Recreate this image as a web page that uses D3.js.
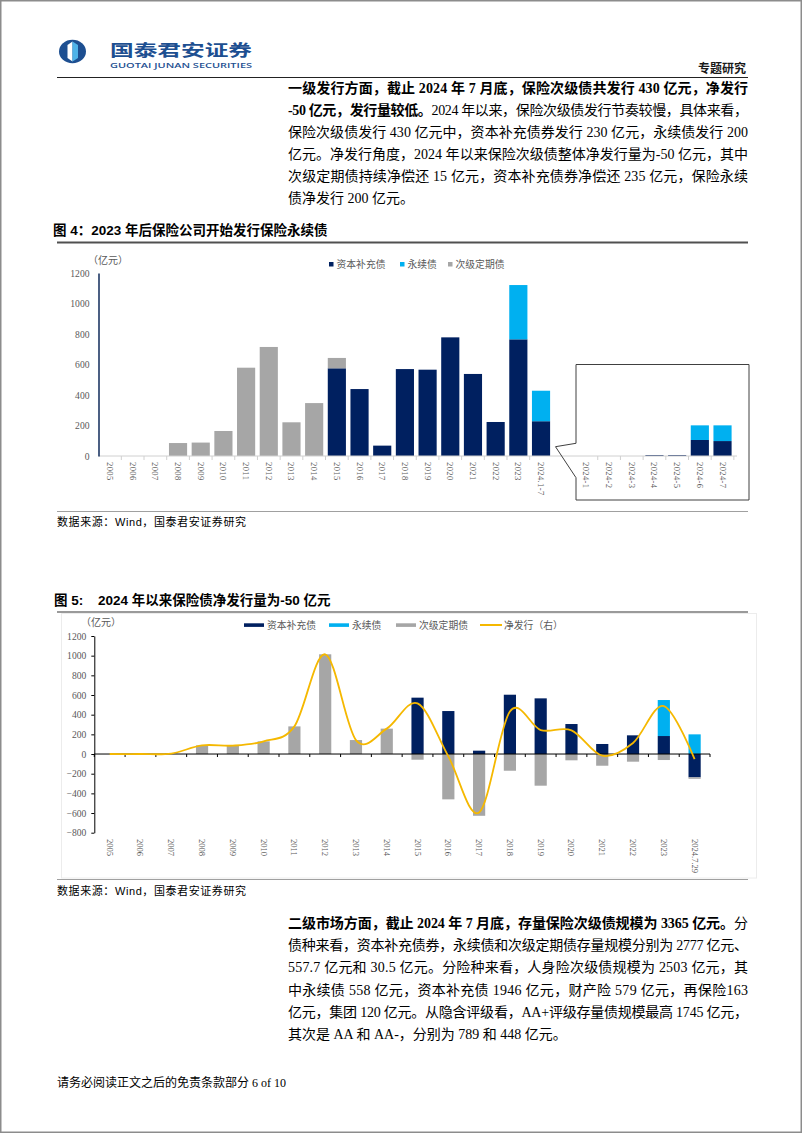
<!DOCTYPE html>
<html><head><meta charset="utf-8">
<script src="https://cdn.jsdelivr.net/npm/d3@7"></script>
<style>body{margin:0;background:#fff}svg{display:block}</style>
</head><body><svg id="page" width="802" height="1133"></svg>
<script>
// ---------- DATA ----------
// Figure 4: issuance (亿元)
const years4 = ["2005","2006","2007","2008","2009","2010","2011","2012","2013","2014","2015","2016","2017","2018","2019","2020","2021","2022","2023","2024.1-7"];
const cap4   = [0,0,0,0,0,0,0,0,0,0,575,439,68,570,566,778,538,223,765,228];
const perp4  = [0,0,0,0,0,0,0,0,0,0,0,0,0,0,0,0,0,0,356,200];
const sub4   = [0,0,0,85,88,164,579,715,221,347,68,0,0,0,0,0,0,0,0,0];
const months4 = ["2024-1","2024-2","2024-3","2024-4","2024-5","2024-6","2024-7"];
const capM   = [0,0,0,6,6,105,98];
const perpM  = [0,0,0,0,0,96,103];
const ticks4 = [0,200,400,600,800,1000,1200];
const legend4 = ["资本补充债","永续债","次级定期债"];

// Figure 5: net issuance (亿元)
const years5 = ["2005","2006","2007","2008","2009","2010","2011","2012","2013","2014","2015","2016","2017","2018","2019","2020","2021","2022","2023","2024.7.29"];
const cap5   = [0,0,0,0,0,0,0,0,0,0,573,437,34,603,566,305,102,190,183,-237];
const perp5  = [0,0,0,0,0,0,0,0,0,0,0,0,0,0,0,0,0,0,366,200];
const sub5   = [0,0,5,88,85,129,281,1014,142,258,-58,-461,-628,-170,-322,-64,-119,-78,-61,-15];
const net5   = [0,0,5,88,85,129,281,1014,142,258,515,-24,-594,433,244,241,-17,112,488,-52];
const ticks5 = [-800,-600,-400,-200,0,200,400,600,800,1000,1200];
const legend5 = ["资本补充债","永续债","次级定期债","净发行（右）"];

const colors = {cap:"#002060", perp:"#00b0f0", sub:"#a6a6a6", net:"#f5b800"};

// ---------- PAGE ----------
const svg = d3.select("#page");
const SERIF = "'Liberation Serif','Noto Sans CJK SC',serif";
const SANS = "'Liberation Sans','Noto Sans CJK SC',sans-serif";
const CJK = "'Noto Sans CJK SC',sans-serif";
const fmt = d3.format("d");

svg.append("rect").attr("x",0.75).attr("y",0.75).attr("width",800.5).attr("height",1131.5)
  .attr("fill","#fff").attr("stroke","#8c8c8c").attr("stroke-width",1.5);

// Header logo
const logo = svg.append("g");
logo.append("ellipse").attr("cx",72.5).attr("cy",51.5).attr("rx",13.5).attr("ry",11.8).attr("fill","#1d4f91");
logo.append("polygon").attr("points","72.5,41.5 67.5,45 67.5,58 72.5,61.5").attr("fill","#ffffff");
logo.append("polygon").attr("points","72.5,41.5 78,45 78,58 72.5,61.5").attr("fill","#4fb3e8");
svg.append("text").attr("x",110).attr("y",56).attr("font-family",CJK).attr("font-weight",700)
  .attr("font-size",16).attr("fill","#1d4f91").attr("textLength",142).attr("lengthAdjust","spacingAndGlyphs").text("国泰君安证券");
svg.append("text").attr("x",110).attr("y",67.5).attr("font-family","'Open Sans',sans-serif").attr("font-weight",600)
  .attr("font-size",7.2).attr("fill","#1d4f91").attr("textLength",142).attr("lengthAdjust","spacingAndGlyphs").text("GUOTAI JUNAN SECURITIES");
svg.append("text").attr("x",746).attr("y",73).attr("text-anchor","end").attr("font-family",CJK).attr("font-weight",700)
  .attr("font-size",12).attr("fill","#1a1a1a").text("专题研究");
svg.append("line").attr("x1",57).attr("x2",748).attr("y1",77.5).attr("y2",77.5).attr("stroke","#222").attr("stroke-width",1.2);

// Paragraph helper
function para(lines, y0, dy){
  lines.forEach((segs,i)=>{
    const t = svg.append("text").attr("x",288).attr("y",y0+i*dy)
      .attr("font-family",SERIF).attr("font-size",14).attr("fill","#000");
    if(i < lines.length-1){ t.attr("textLength",460).attr("lengthAdjust","spacing"); }
    segs.forEach(s=>{ t.append("tspan").attr("font-weight", s[1]?700:400).text(s[0]); });
  });
}
para([
  [["一级发行方面，截止 2024 年 7 月底，保险次级债共发行 430 亿元，净发行",true]],
  [["-50 亿元，发行量较低。",true],["2024 年以来，保险次级债发行节奏较慢，具体来看，",false]],
  [["保险次级债发行 430 亿元中，资本补充债券发行 230 亿元，永续债发行 200",false]],
  [["亿元。净发行角度，2024 年以来保险次级债整体净发行量为-50 亿元，其中",false]],
  [["次级定期债持续净偿还 15 亿元，资本补充债券净偿还 235 亿元，保险永续",false]],
  [["债净发行 200 亿元。",false]]
], 93, 22);

para([
  [["二级市场方面，截止 2024 年 7 月底，存量保险次级债规模为 3365 亿元。",true],["分",false]],
  [["债种来看，资本补充债券，永续债和次级定期债存量规模分别为 2777 亿元、",false]],
  [["557.7 亿元和 30.5 亿元。分险种来看，人身险次级债规模为 2503 亿元，其",false]],
  [["中永续债 558 亿元，资本补充债 1946 亿元，财产险 579 亿元，再保险163",false]],
  [["亿元，集团 120 亿元。从隐含评级看，AA+评级存量债规模最高 1745 亿元，",false]],
  [["其次是 AA 和 AA-，分别为 789 和 448 亿元。",false]]
], 928, 22.2);

// Footer
svg.append("text").attr("x",57).attr("y",1087).attr("font-family",SERIF).attr("font-size",12).attr("fill","#000")
  .text("请务必阅读正文之后的免责条款部分 6 of 10");

// ---------- FIGURE 4 ----------
svg.append("text").attr("x",53).attr("y",235).attr("font-family",SANS).attr("font-weight",700).attr("font-size",13.5).attr("fill","#000")
  .text("图 4：2023 年后保险公司开始发行保险永续债");
svg.append("line").attr("x1",57).attr("x2",748).attr("y1",242.5).attr("y2",242.5).attr("stroke","#505050").attr("stroke-width",2);

const dom4 = years4.concat([" "], months4);
const rows4 = years4.map((c,i)=>({cat:c,cap:cap4[i],perp:perp4[i],sub:sub4[i]}))
  .concat([{cat:" ",cap:0,perp:0,sub:0}])
  .concat(months4.map((c,i)=>({cat:c,cap:capM[i],perp:perpM[i],sub:0})));
const x4 = d3.scaleBand().domain(dom4).range([98.5,734]).paddingInner(0.2).paddingOuter(0.106);
const y4 = d3.scaleLinear().domain([0,1200]).range([456,273]);
const g4 = svg.append("g");
const st4 = d3.stack().keys(["cap","perp","sub"])(rows4);
g4.selectAll("g.s").data(st4).join("g").attr("fill",d=>colors[d.key])
  .selectAll("rect").data(d=>d.filter(p=>p[1]-p[0]>0)).join("rect")
  .attr("x",d=>x4(d.data.cat)).attr("width",x4.bandwidth())
  .attr("y",d=>y4(d[1])).attr("height",d=>y4(d[0])-y4(d[1]));

// x axis line + ticks
g4.append("line").attr("x1",98.5).attr("x2",737).attr("y1",456).attr("y2",456).attr("stroke","#d0d0d0").attr("stroke-width",1);
const step4 = x4.step();
dom4.forEach((c,i)=>{
  const bx = x4(c) + x4.bandwidth() + step4*0.1;
  if(c!==" " && dom4[i+1]!==" ")
    g4.append("line").attr("x1",bx).attr("x2",bx).attr("y1",456).attr("y2",460).attr("stroke","#d0d0d0");
});
g4.selectAll("text.xl").data(dom4.filter(c=>c!==" ")).join("text").attr("class","xl")
  .attr("transform",c=>`translate(${x4(c)+x4.bandwidth()/2},462) rotate(90)`)
  .attr("dy","0.35em").attr("font-family",SERIF).attr("font-size",8.5).attr("letter-spacing",0.4).attr("fill","#595959").text(c=>c);

// y axis
const ya4 = g4.append("g").attr("transform","translate(98.5,0)")
  .call(d3.axisLeft(y4).tickValues(ticks4).tickFormat(fmt).tickSize(0).tickPadding(9));
ya4.select(".domain").attr("stroke","#1f3864").attr("stroke-width",1.6);
ya4.selectAll("text").attr("font-family",SERIF).attr("font-size",9.6).attr("fill","#595959");
g4.append("text").attr("x",88).attr("y",264).attr("font-family",CJK).attr("font-size",10).attr("fill","#595959").text("（亿元）");

// callout box
g4.append("path").attr("d","M576,364.5 H749 V500 H576 V477.7 L555.5,446.7 L576,443.3 Z")
  .attr("fill","none").attr("stroke","#404040").attr("stroke-width",1);

// legend 4
const lg4x = [329,400,448];
["cap","perp","sub"].forEach((k,i)=>{
  g4.append("rect").attr("x",lg4x[i]).attr("y",262).attr("width",4.5).attr("height",4.5).attr("fill",colors[k]);
  g4.append("text").attr("x",lg4x[i]+7.5).attr("y",268).attr("font-family",CJK).attr("font-size",9.8)
    .attr("fill","#595959").text(legend4[i]);
});

// source 4
svg.append("line").attr("x1",57).attr("x2",748).attr("y1",511.5).attr("y2",511.5).attr("stroke","#a0a0a0").attr("stroke-width",1);
svg.append("text").attr("x",57).attr("y",526).attr("font-family",SANS).attr("font-size",11).attr("fill","#000")
  .attr("textLength",189).attr("lengthAdjust","spacing").text("数据来源：Wind，国泰君安证券研究");

// ---------- FIGURE 5 ----------
svg.append("text").attr("x",54).attr("y",605).attr("font-family",SANS).attr("font-weight",700).attr("font-size",13.5).attr("fill","#000")
  .text("图 5:");
svg.append("text").attr("x",98).attr("y",605).attr("font-family",SANS).attr("font-weight",700).attr("font-size",13.5).attr("fill","#000")
  .text("2024 年以来保险债净发行量为-50 亿元");
svg.append("line").attr("x1",57).attr("x2",748).attr("y1",612).attr("y2",612).attr("stroke","#9a9a9a").attr("stroke-width",2);
svg.append("rect").attr("x",61.5).attr("y",613.5).attr("width",695).attr("height",264.5).attr("fill","none").attr("stroke","#ececec");

const rows5 = years5.map((c,i)=>({cat:c,cap:cap5[i],perp:perp5[i],sub:sub5[i],net:net5[i]}));
const x5 = d3.scaleBand().domain(years5).range([94.3,710]).paddingInner(0.604).paddingOuter(0.302);
const y5 = d3.scaleLinear().domain([-800,1200]).range([832.7,636]);
const g5 = svg.append("g");
const st5 = d3.stack().keys(["cap","perp","sub"]).offset(d3.stackOffsetDiverging)(rows5);
g5.selectAll("g.s").data(st5).join("g").attr("fill",d=>colors[d.key])
  .selectAll("rect").data(d=>d.filter(p=>p[1]!==p[0])).join("rect")
  .attr("x",d=>x5(d.data.cat)).attr("width",x5.bandwidth())
  .attr("y",d=>y5(Math.max(d[0],d[1]))).attr("height",d=>Math.abs(y5(d[0])-y5(d[1])));

// axes
const ya5 = g5.append("g").attr("transform","translate(94.3,0)")
  .call(d3.axisLeft(y5).tickValues(ticks5).tickFormat(fmt).tickSize(3).tickSizeOuter(0).tickPadding(5));
ya5.select(".domain").attr("stroke","#000");
ya5.selectAll(".tick line").attr("stroke","#000");
ya5.selectAll("text").attr("font-family",SERIF).attr("font-size",9.6).attr("fill","#595959");
g5.append("line").attr("x1",94.3).attr("x2",710).attr("y1",y5(0)).attr("y2",y5(0)).attr("stroke","#000").attr("stroke-width",1);
const step5 = x5.step();
d3.range(years5.length+1).forEach(i=>{
  const bx = 94.3 + i*step5;
  g5.append("line").attr("x1",bx).attr("x2",bx).attr("y1",y5(0)).attr("y2",y5(0)+3).attr("stroke","#000");
});
g5.selectAll("text.xl").data(years5).join("text").attr("class","xl")
  .attr("transform",c=>`translate(${x5(c)+x5.bandwidth()/2},839) rotate(90)`)
  .attr("dy","0.35em").attr("font-family",SERIF).attr("font-size",8.5).attr("fill","#595959").text(c=>c);

// net line
const line5 = d3.line().x(d=>x5(d.cat)+x5.bandwidth()/2).y(d=>y5(d.net)).curve(d3.curveCardinal.tension(0));
g5.append("path").datum(rows5).attr("d",line5).attr("fill","none").attr("stroke",colors.net).attr("stroke-width",1.8);

g5.append("text").attr("x",81).attr("y",626).attr("font-family",CJK).attr("font-size",10).attr("fill","#595959").text("（亿元）");

// legend 5
const lg5x = [244,329,396,480];
["cap","perp","sub","net"].forEach((k,i)=>{
  if(k==="net"){
    g5.append("line").attr("x1",lg5x[i]).attr("x2",lg5x[i]+22).attr("y1",625).attr("y2",625).attr("stroke",colors.net).attr("stroke-width",2);
  } else {
    g5.append("rect").attr("x",lg5x[i]).attr("y",623.3).attr("width",20).attr("height",3.6).attr("fill",colors[k]);
  }
  g5.append("text").attr("x",lg5x[i]+(k==="net"?24:23)).attr("y",629).attr("font-family",CJK).attr("font-size",9.8)
    .attr("fill","#595959").text(legend5[i]);
});

// source 5
svg.append("line").attr("x1",57).attr("x2",748).attr("y1",879.5).attr("y2",879.5).attr("stroke","#a0a0a0").attr("stroke-width",1);
svg.append("text").attr("x",57).attr("y",895).attr("font-family",SANS).attr("font-size",11).attr("fill","#000")
  .attr("textLength",189).attr("lengthAdjust","spacing").text("数据来源：Wind，国泰君安证券研究");
</script>
</body></html>
